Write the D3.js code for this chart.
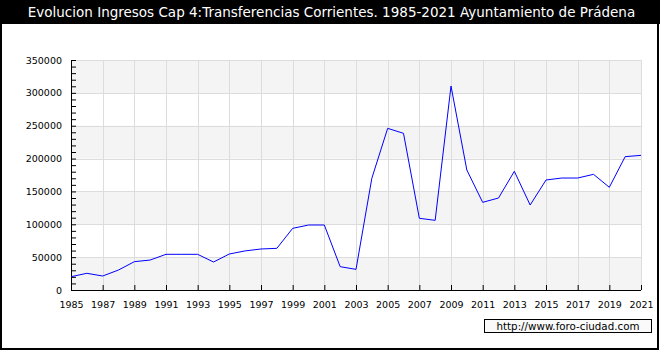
<!DOCTYPE html>
<html>
<head>
<meta charset="utf-8">
<script src="https://cdn.jsdelivr.net/npm/d3@7"></script>
<style>
  html, body { margin: 0; padding: 0; background: #fff; }
  svg text { font-family: "DejaVu Sans", Verdana, sans-serif; }
</style>
</head>
<body>
<div id="chart"></div>
<script>
/* ── data ─────────────────────────────────────────────────── */
const title = 'Evolucion Ingresos Cap 4:Transferencias Corrientes. 1985-2021 Ayuntamiento de Prádena';
const years = d3.range(1985, 2022);
const values = [
  20200, 25400, 21300, 30400, 43100, 45600, 54300, 54300, 54300, 42600,
  54800, 59500, 62400, 63400, 93800, 98900, 98900, 35500, 31400, 170000,
  246000, 238400, 109100, 106000, 310400, 182600, 133400, 140000, 180600, 129300,
  167400, 170400, 170400, 176000, 156300, 202900, 204900
];
const yTicks = [0, 50000, 100000, 150000, 200000, 250000, 300000, 350000];
const xTicks = d3.range(1985, 2022, 2);
const watermark = 'http://www.foro-ciudad.com';

/* ── layout ───────────────────────────────────────────────── */
const W = 660, H = 350;
const ML = 71, MR = 19, MT = 60, MB = 60;
const plotW = W - ML - MR;
const plotH = H - MT - MB;

const svg = d3.select('#chart').append('svg')
  .attr('width', W).attr('height', H);

// frame + title bar
svg.append('rect').attr('x', 1).attr('y', 1).attr('width', W - 3).attr('height', H - 2)
  .attr('fill', '#fff').attr('stroke', '#000').attr('stroke-width', 2);
svg.append('rect').attr('x', 0).attr('y', 0).attr('width', W).attr('height', 24)
  .attr('fill', '#000');
svg.append('text').attr('x', 331.5).attr('y', 17)
  .attr('text-anchor', 'middle').attr('fill', '#fff')
  .attr('font-size', 13.5).text(title);

/* ── scales ───────────────────────────────────────────────── */
const x = d3.scaleLinear().domain([1985, 2021]).range([0, plotW]);
const y = d3.scaleLinear().domain([0, 350000]).range([plotH, 0]);

const g = svg.append('g').attr('transform', `translate(${ML},${MT})`);

// alternating bands
g.selectAll('.band').data(yTicks.slice(0, -1).filter((d, i) => i % 2 === 0))
  .enter().append('rect')
  .attr('x', 0).attr('width', plotW)
  .attr('y', d => y(d + 50000)).attr('height', d => y(d) - y(d + 50000))
  .attr('fill', '#f4f4f4');

// grid
g.selectAll('.hgrid').data(yTicks.slice(1)).enter().append('line')
  .attr('x1', 0).attr('x2', plotW)
  .attr('y1', d => Math.round(y(d)) + 0.5).attr('y2', d => Math.round(y(d)) + 0.5)
  .attr('stroke', '#dcdcdc');
g.selectAll('.vgrid').data(xTicks.slice(1)).enter().append('line')
  .attr('x1', d => Math.round(x(d)) + 0.5).attr('x2', d => Math.round(x(d)) + 0.5)
  .attr('y1', 0).attr('y2', plotH)
  .attr('stroke', '#dcdcdc');

// axes
const yAxis = d3.axisLeft(y).tickValues(d3.range(0, 350001, 10000))
  .tickSize(-5).tickFormat(d => yTicks.includes(d) ? d : '').tickPadding(12);
const yAxisG = g.append('g').call(yAxis);

const xAxis = d3.axisBottom(x).tickValues(xTicks)
  .tickSize(-5).tickFormat(d => d).tickPadding(11);
const xAxisG = g.append('g').attr('transform', `translate(0,${plotH})`).call(xAxis);

[yAxisG, xAxisG].forEach(a => {
  a.select('.domain').attr('stroke', '#000').attr('stroke-width', 1);
  a.selectAll('.tick line').attr('stroke', '#000');
  a.selectAll('text').attr('font-family', '"DejaVu Sans", Verdana, sans-serif')
    .attr('font-size', 9.5).attr('fill', '#000');
});
yAxisG.select('.domain').attr('d', `M0.5,0V${plotH + 0.5}`);
xAxisG.select('.domain').attr('d', `M0,0.5H${plotW}`);
yAxisG.selectAll('text').attr('x', -9);

// line
const line = d3.line()
  .x((d, i) => x(years[i]))
  .y(d => y(d));
g.append('path').datum(values)
  .attr('d', line)
  .attr('fill', 'none')
  .attr('stroke', '#0000ff')
  .attr('stroke-width', 1);

// watermark
const wm = svg.append('g').attr('transform', 'translate(484.5,319.5)');
wm.append('rect').attr('width', 167).attr('height', 13)
  .attr('fill', '#fafafa').attr('stroke', '#000');
wm.append('text').attr('x', 83.5).attr('y', 10.5)
  .attr('text-anchor', 'middle').attr('font-size', 10.3)
  .attr('fill', '#000').text(watermark);
</script>
</body>
</html>
